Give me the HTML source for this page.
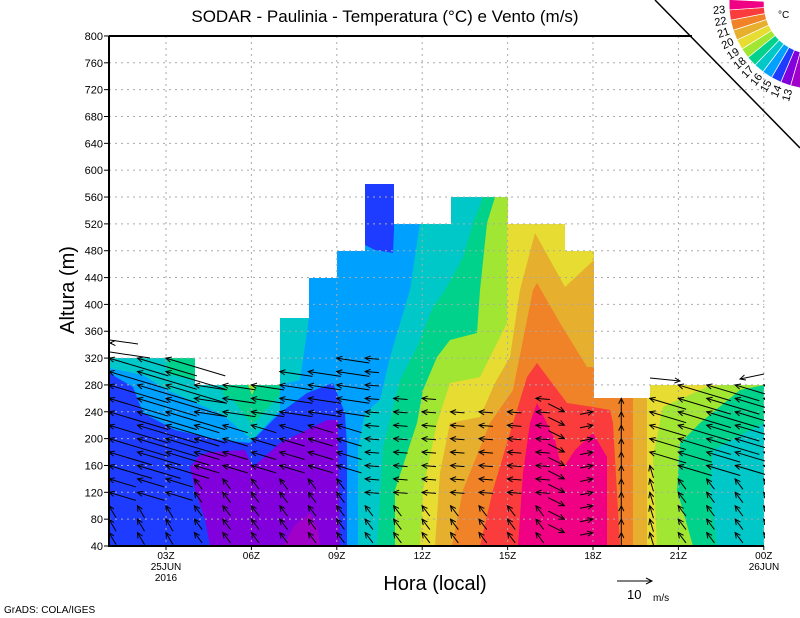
<!DOCTYPE html>
<html><head><meta charset="utf-8"><style>
html,body{margin:0;padding:0;background:#fff;}
svg{display:block;font-family:"Liberation Sans",sans-serif;}
</style></head><body>
<svg id="s" width="800" height="618" viewBox="0 0 800 618" xmlns="http://www.w3.org/2000/svg">
<defs><clipPath id="pc"><rect x="109" y="30" width="656" height="517"/></clipPath></defs>
<rect width="800" height="618" fill="#fff"/>
<rect x="109" y="36" width="655" height="510" fill="#00a0ff"/>
<polygon fill="#1e3cff" points="109,373 133,387 143,413 175,430 220,440 250,443 280,413 307,393 333,383 345,413 347,447 347,546 109,546"/>
<polygon fill="#1e3cff" points="365,184 394,184 394,230 393,253 375,250 365,245"/>
<polygon fill="#8200dc" points="190,467 200,455 210,452 245,450 253,467 280,443 327,420 338,420 340,546 253,546 210,546 205,520 195,490"/>
<polygon fill="#a000c8" points="283,546 295,525 310,513 318,530 320,546"/>
<polygon fill="#00c8c8" points="109,358 223,358 223,385 280,385 280,410 252,440 223,415 167,390 143,375 109,368"/>
<polygon fill="#00d28c" points="167,358 223,358 223,372 195,380 167,374"/>
<polygon fill="#00d28c" points="223,385 280,385 280,395 252,425 233,400 223,395"/>
<polygon fill="#a0e632" points="248,385 256,385 252,395"/>
<polygon fill="#00c8c8" points="280,318 309,318 300,380 280,385"/>
<polygon fill="#00c8c8" points="358,546 358,447 365,413 380,400 390,357 410,290 420,223 423,197 425,36 764,36 764,546"/>
<polygon fill="#00d28c" points="377,546 383,447 400,380 417,347 433,307 445,290 463,257 473,223 483,197 485,36 764,36 764,423 713,450 710,490 717,546"/>
<polygon fill="#a0e632" points="395,546 395,490 417,423 423,390 437,357 450,340 477,333 480,290 487,223 495,197 497,36 764,36 764,385 740,390 700,423 680,443 677,490 693,546"/>
<polygon fill="#e6dc32" points="420,546 423,490 437,423 450,383 480,377 507,323 507,223 508,197 510,36 764,36 764,380 707,387 663,407 653,457 657,546"/>
<polygon fill="#e6af2d" points="435,546 440,473 450,423 480,417 495,383 510,357 520,290 535,233 565,287 594,260 594,398 647,398 647,546"/>
<polygon fill="#f08228" points="452,546 463,490 490,423 513,390 533,290 537,283 560,323 587,367 594,367 594,398 633,398 633,546"/>
<polygon fill="#fa3c3c" points="480,546 493,490 513,423 527,377 537,363 567,403 593,407 610,410 613,423 620,546"/>
<polygon fill="#f00082" points="518,546 523,473 530,423 537,403 555,440 562,470 575,450 593,433 607,457 607,546"/>
<polygon fill="#fff" points="109,30 764,30 764,385 650,385 650,398 594,398 594,251 565,251 565,224 508,224 508,197 451,197 451,224 394,224 394,184 365,184 365,251 337,251 337,278 309,278 309,318 280,318 280,385 195,385 195,358 109,358"/>
<g id="grid" stroke="#aaa" stroke-width="1" stroke-dasharray="2,4" fill="none"></g>
<g id="ticks" stroke="#000" stroke-width="1"></g>
<g id="arr" stroke="#000" stroke-width="1" fill="none" clip-path="url(#pc)"></g>
<line x1="109" y1="36" x2="109" y2="546" stroke="#000" stroke-width="2"/>
<line x1="108" y1="546" x2="764" y2="546" stroke="#000" stroke-width="2"/>
<line x1="109" y1="36" x2="692" y2="36" stroke="#000" stroke-width="2"/>
<line x1="655" y1="0" x2="800" y2="148" stroke="#000" stroke-width="1.5"/>
<g id="yl" font-size="11" text-anchor="end" fill="#000"></g>
<g id="xl" font-size="10" text-anchor="middle" fill="#000"></g>
<g id="leg"></g>
<text x="385" y="22" font-size="17" text-anchor="middle">SODAR - Paulinia - Temperatura (°C) e Vento (m/s)</text>
<text transform="translate(74,290) rotate(-90)" font-size="20" text-anchor="middle">Altura (m)</text>
<text x="435" y="590" font-size="20" text-anchor="middle">Hora (local)</text>
<line x1="617" y1="581" x2="652" y2="581" stroke="#000"/><path d="M646,578 L652,581 L646,584" fill="none" stroke="#000"/>
<text x="627" y="599" font-size="13">10</text><text x="653" y="601" font-size="10">m/s</text>
<text x="4" y="613" font-size="10">GrADS: COLA/IGES</text>
<text x="778" y="18" font-size="10">°C</text>
</svg>
<script>
(function(){
var NS="http://www.w3.org/2000/svg";
function el(p,t,a,txt){var e=document.createElementNS(NS,t);for(var k in a)e.setAttribute(k,a[k]);if(txt!=null)e.textContent=txt;p.appendChild(e);return e;}
var Y=function(h){return 546-(h-40)*0.6711;};
var g=document.getElementById('grid'),tk=document.getElementById('ticks'),yl=document.getElementById('yl'),xl=document.getElementById('xl');
for(var h=40;h<=800;h+=40){var y=Y(h);if(h>40&&h<800)el(g,'line',{x1:109,y1:y,x2:764,y2:y});el(yl,'text',{x:103,y:y+4},String(h));el(tk,'line',{x1:104,y1:y,x2:109,y2:y});}
var labs=['03Z','06Z','09Z','12Z','15Z','18Z','21Z','00Z'];
for(var i=0;i<8;i++){var x=166+i*85.4;el(g,'line',{x1:x,y1:36,x2:x,y2:546});el(xl,'text',{x:x,y:559},labs[i]);el(tk,'line',{x1:x,y1:546,x2:x,y2:550});}
el(xl,'text',{x:166,y:570},'25JUN');el(xl,'text',{x:166,y:581},'2016');el(xl,'text',{x:764,y:570},'26JUN');
var lg=document.getElementById('leg');
var cols=['#a000c8','#8200dc','#1e3cff','#00a0ff','#00c8c8','#00d28c','#a0e632','#e6dc32','#e6af2d','#f08228','#fa3c3c','#f00082'];
var cx=814,cy=4,r1=50,r2=85,a0=99,da=7.0;
for(var i=0;i<12;i++){var t1=(a0+i*da)*Math.PI/180,t2=(a0+(i+1)*da)*Math.PI/180;
var p=[cx+r1*Math.cos(t1),cy+r1*Math.sin(t1),cx+r2*Math.cos(t1),cy+r2*Math.sin(t1),cx+r2*Math.cos(t2),cy+r2*Math.sin(t2),cx+r1*Math.cos(t2),cy+r1*Math.sin(t2)];
el(lg,'polygon',{points:p.join(','),fill:cols[i],stroke:'#fff','stroke-width':0.7});}
for(var i=1;i<12;i++){var a=a0+i*da,t=a*Math.PI/180,rr=r2+10;var x=cx+rr*Math.cos(t),y=cy+rr*Math.sin(t);
el(lg,'text',{x:x,y:y,'font-size':11,'text-anchor':'middle','dominant-baseline':'middle',transform:'rotate('+(a+180)+' '+x+' '+y+')'},String(12+i));}
var maxH=[320,320,320,280,280,280,300,300,320,320,260,260,240,240,240,260,240,240,260,260,280,280,280,280];
var ag=document.getElementById('arr');
function arrow(x2,y2,vx,vy){var L=Math.sqrt(vx*vx+vy*vy);if(L<1)return;var x1=x2-vx,y1=y2-vy;
el(ag,'line',{x1:x1,y1:y1,x2:x2,y2:y2});var ux=vx/L,uy=vy/L,hs=6,c=Math.cos(0.45),s=Math.sin(0.45);
var ax=-(ux*c-uy*s)*hs,ay=-(ux*s+uy*c)*hs,bx=-(ux*c+uy*s)*hs,by=-(-ux*s+uy*c)*hs;
el(ag,'path',{d:'M'+(x2+ax)+','+(y2+ay)+' L'+x2+','+y2+' L'+(x2+bx)+','+(y2+by)});}
function dir(a,b,L){var n=Math.sqrt(a*a+b*b);return [a/n*L,b/n*L];}
for(var k=0;k<24;k++){var x=109+28.46*k;
for(var h=60;h<=maxH[k];h+=20){var y=Y(h);var v;
if(k<=2){v=h>=200?dir(-1,-0.3,62):h>=160?dir(-1,-0.3,45):h>=120?dir(-1,-0.3,28):dir(-0.5,-0.85,14);}
else if(k<=8){v=h>=240?dir(-1,-0.15,33):h>=160?dir(-1,-0.3,26):dir(-0.6,-0.8,13);}
else if(k<=15){v=h>=120?dir(-1,-0.08,14):dir(-0.6,-0.8,13);}
else if(k==16){v=dir(1,0.5,18);}
else if(k==17){v=dir(1,-0.2,13);}
else if(k==18){v=dir(0,-1,13);}
else if(k==19){v=h>=180?dir(-1,-0.3,38):dir(-0.3,-1,13);}
else {v=h>=200?dir(-1,-0.3,55):h>=160?dir(-1,-0.3,35):dir(-0.6,-0.8,13);}
arrow(x,y,v[0],v[1]);}}
arrow(110,343,-2,0);
el(ag,'line',{x1:110,y1:340,x2:138,y2:344});el(ag,'line',{x1:110,y1:352,x2:150,y2:358});
arrow(680,381,30,3);arrow(680,381,-0.1,0);
arrow(740,379,-1,0.3);el(ag,'line',{x1:740,y1:379,x2:764,y2:374});
})();
</script>
</body></html>
